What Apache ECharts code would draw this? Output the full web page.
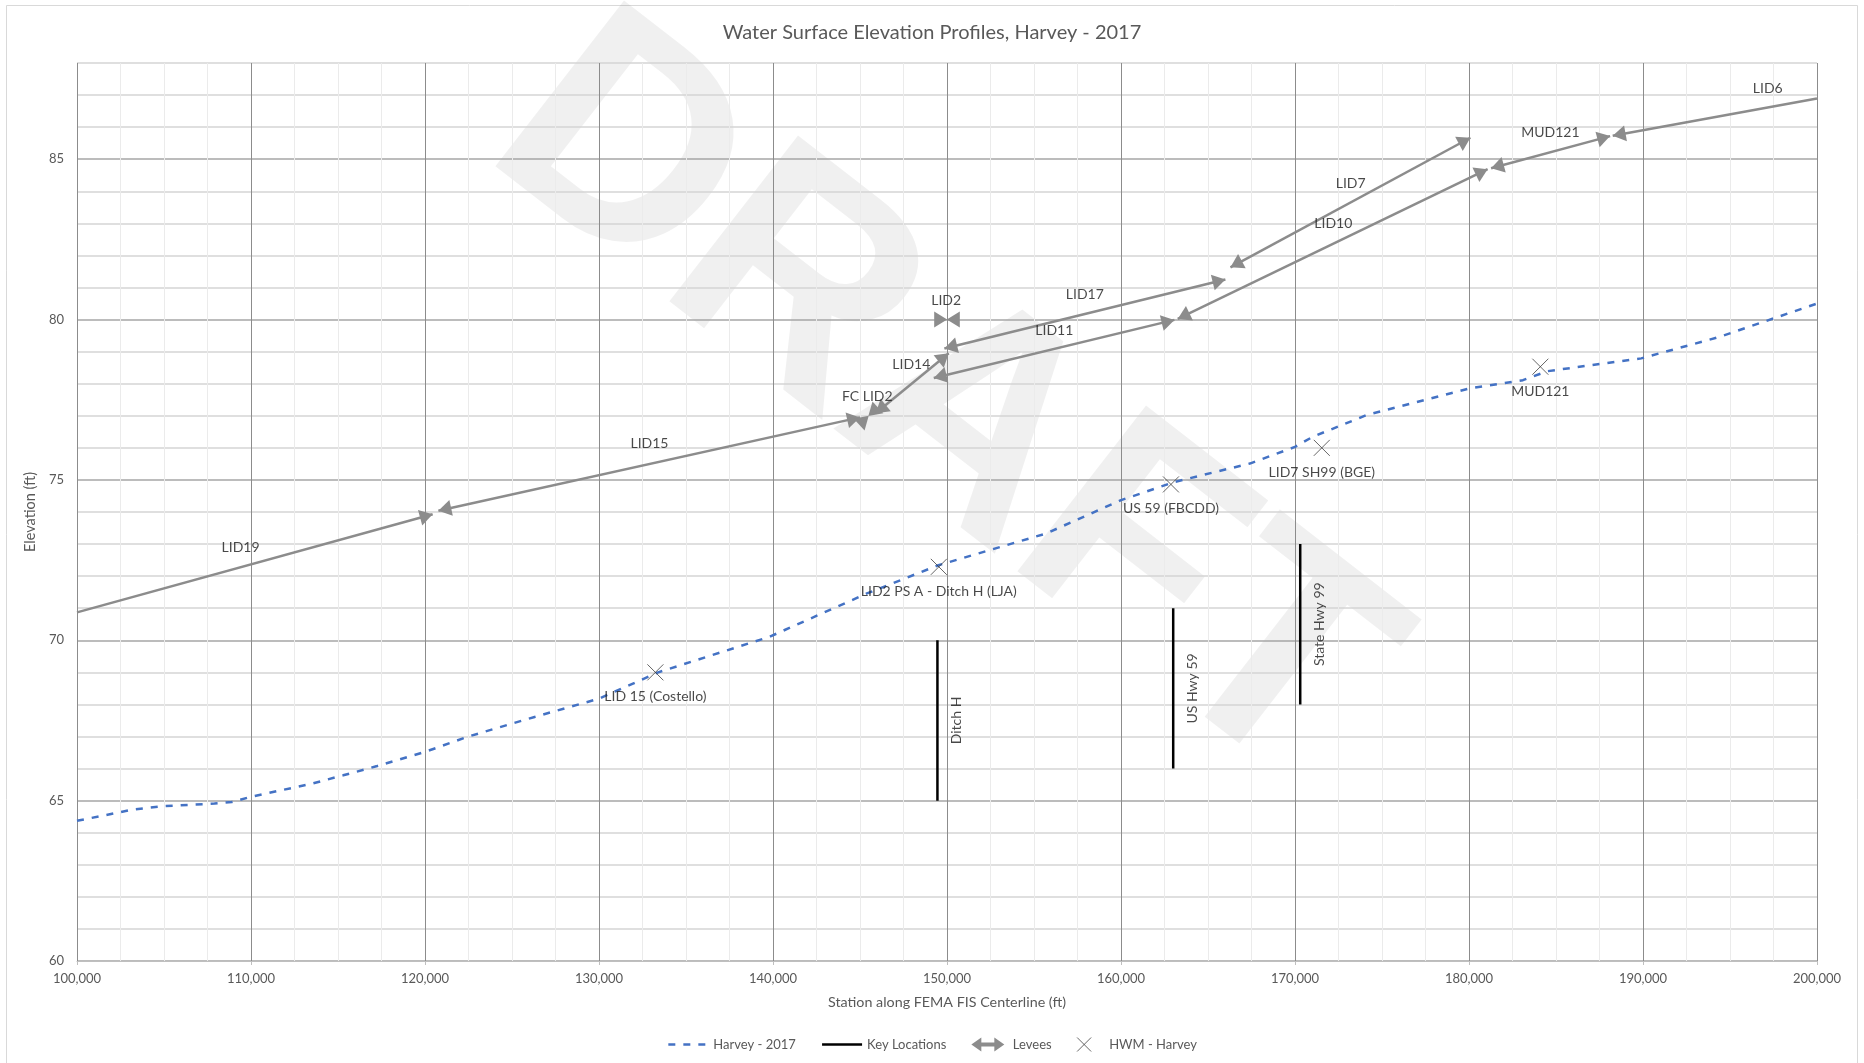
<!DOCTYPE html>
<html>
<head>
<meta charset="utf-8">
<script src="https://cdn.jsdelivr.net/npm/echarts@6/dist/echarts.min.js"></script>
<style>
html,body{margin:0;padding:0;background:#ffffff;}
#chart{width:1864px;height:1063px;}
</style>
</head>
<body>
<div id="chart"></div>
<script>
// ---------------- DATA ----------------
// Axis extents / tick steps
const xMin = 100000, xMax = 200000, xMajorStep = 10000, xMinorSplits = 4;
const yMin = 60, yMax = 88, yStep = 1, yLabelStep = 5;

// Harvey - 2017 water surface profile (station ft, elevation ft)
const harveyStation = [100000, 103200, 105000, 107900, 108900, 110000, 113500, 115300, 117200, 120000,
                       122500, 126300, 130000, 133400, 139800, 145400, 149500, 155700, 160000, 163100,
                       167400, 170000, 171000, 174100, 180000, 183100, 184500, 189900, 194400, 200000];
const harveyElev    = [64.37, 64.72, 64.83, 64.91, 64.96, 65.12, 65.53, 65.79, 66.07, 66.52,
                       67.00, 67.61, 68.18, 69.00, 70.11, 71.46, 72.34, 73.33, 74.37, 74.94,
                       75.51, 76.03, 76.34, 77.02, 77.85, 78.11, 78.39, 78.79, 79.46, 80.50];

// High water marks - Harvey
const hwmNames   = ['LID 15 (Costello)', 'LID2 PS A - Ditch H (LJA)', 'US 59 (FBCDD)', 'LID7 SH99 (BGE)', 'MUD121'];
const hwmStation = [133240, 149530, 162870, 171540, 184100];
const hwmElev    = [69.00, 72.29, 74.86, 76.00, 78.53];

// Key locations (vertical markers)
const keyNames   = ['Ditch H', 'US Hwy 59', 'State Hwy 99'];
const keyStation = [149450, 163000, 170300];
const keyBottom  = [65, 66, 68];
const keyTop     = [70, 71, 73];

// Levees (segments from -> to)
const leveeNames       = ['LID19', 'LID15', 'FC LID2', 'LID14', 'LID2', 'LID17', 'LID11', 'LID10', 'LID7', 'MUD121', 'LID6'];
const leveeFromStation = [100000, 120770, 145480, 145900, 149990, 149850, 149240, 163260, 166290, 181270, 188260];
const leveeFromElev    = [70.87, 74.04, 76.99, 77.08, 80.00, 79.10, 78.18, 80.02, 81.63, 84.72, 85.73];
const leveeToStation   = [120440, 145000, 145500, 150100, 150010, 166000, 163070, 181070, 180080, 188110, 200000];
const leveeToElev      = [73.93, 76.95, 77.00, 78.95, 80.00, 81.25, 79.99, 84.69, 85.67, 85.72, 86.89];
// Levee name label anchors
const leveeLabelStation = [109400, 132900, 145420, 147950, 149950, 157920, 156170, 172200, 173200, 184680, 197170];
const leveeLabelElev    = [72.90, 76.14, 77.60, 78.61, 80.61, 80.77, 79.66, 83.00, 84.25, 85.83, 87.21];

// ---------------- STYLE ----------------
const FONT = 'Lato';
const GRAY_TEXT = '#595959';
const LABEL_TEXT = '#1a1a1a';
const HARVEY_COLOR = '#4472c4';
const LEVEE_COLOR = '#8c8c8c';
const X_SYMBOL = 'path://M0,0L10,10M10,0L0,10';
const LEVEE_ICON = 'path://M0,7L10,0L10,5L23,5L23,0L33,7L23,14L23,9L10,9L10,14Z';
const ARROW_SIZE = [16, 13];
const ARROW_OFFSET = [0, '50%'];

const atAxisEdge = s => s <= xMin || s >= xMax;
const leveeEnd = (s, e) => atAxisEdge(s)
  ? { coord: [s, e], symbol: 'none' }
  : { coord: [s, e], symbol: 'triangle', symbolSize: ARROW_SIZE, symbolOffset: ARROW_OFFSET };

const series = [];

series.push({
  name: 'Harvey - 2017',
  type: 'line',
  data: harveyStation.map((s, i) => [s, harveyElev[i]]),
  symbol: 'none',
  showSymbol: false,
  itemStyle: { color: HARVEY_COLOR },
  lineStyle: { color: HARVEY_COLOR, width: 2.5, type: [7, 8], cap: 'butt' },
  silent: true,
  z: 3
});

keyStation.forEach((s, i) => {
  series.push({
    name: 'Key Locations',
    type: 'line',
    data: [[s, keyBottom[i]], [s, keyTop[i]]],
    symbol: 'none',
    showSymbol: false,
    itemStyle: { color: '#000000' },
    lineStyle: { color: '#000000', width: 2.5 },
    silent: true,
    z: 4
  });
});

series.push({
  name: 'Levees',
  type: 'line',
  data: [],
  itemStyle: { color: LEVEE_COLOR },
  lineStyle: { color: LEVEE_COLOR },
  silent: true,
  z: 4,
  markLine: {
    silent: true,
    animation: false,
    symbol: 'triangle',
    symbolSize: 12,
    lineStyle: { color: LEVEE_COLOR, width: 2.5, type: 'solid' },
    label: { show: false },
    emphasis: { disabled: true },
    data: leveeNames.map((n, i) => [
      Object.assign({ name: n }, leveeEnd(leveeFromStation[i], leveeFromElev[i])),
      leveeEnd(leveeToStation[i], leveeToElev[i])
    ])
  }
});

series.push({
  name: 'HWM - Harvey',
  type: 'scatter',
  data: hwmStation.map((s, i) => ({ value: [s, hwmElev[i]], name: hwmNames[i] })),
  symbol: X_SYMBOL,
  symbolSize: 16,
  itemStyle: { color: 'transparent', borderColor: '#404040', borderWidth: 1 },
  label: { show: true, position: 'bottom', distance: 9, formatter: '{b}', color: LABEL_TEXT, fontSize: 14, fontFamily: FONT },
  silent: true,
  z: 5
});

series.push({
  name: 'keyLabels',
  type: 'scatter',
  data: keyNames.map((n, i) => ({ value: [keyStation[i], (keyBottom[i] + keyTop[i]) / 2], name: n })),
  symbolSize: 0,
  itemStyle: { color: 'transparent' },
  label: { show: true, formatter: '{b}', position: [12, 0], rotate: 90, align: 'center', verticalAlign: 'top',
           color: LABEL_TEXT, fontSize: 14, fontFamily: FONT },
  silent: true,
  z: 6
});

series.push({
  name: 'leveeLabels',
  type: 'scatter',
  data: leveeNames.map((n, i) => ({ value: [leveeLabelStation[i], leveeLabelElev[i]], name: n })),
  symbolSize: 0,
  itemStyle: { color: 'transparent' },
  label: { show: true, formatter: '{b}', position: 'inside', align: 'center', verticalAlign: 'middle',
           color: LABEL_TEXT, fontSize: 14, fontFamily: FONT },
  silent: true,
  z: 6
});

const option = {
  backgroundColor: '#ffffff',
  animation: false,
  title: {
    text: 'Water Surface Elevation Profiles, Harvey - 2017',
    left: 'center',
    top: 18,
    textStyle: { color: GRAY_TEXT, fontSize: 20, fontWeight: 'normal', fontFamily: FONT }
  },
  grid: { left: 77, top: 63, width: 1740, height: 898, outerBoundsMode: 'none' },
  legend: {
    top: 1032,
    left: 'center',
    itemWidth: 40,
    itemHeight: 14,
    itemGap: 25,
    selectedMode: false,
    textStyle: { color: GRAY_TEXT, fontSize: 13, fontFamily: FONT },
    data: [
      { name: 'Harvey - 2017', itemStyle: { opacity: 0 }, lineStyle: { color: HARVEY_COLOR, width: 2.5, type: [7, 8] } },
      { name: 'Key Locations', itemStyle: { opacity: 0 }, lineStyle: { color: '#000000', width: 2.5, type: 'solid' } },
      { name: 'Levees', icon: LEVEE_ICON, itemStyle: { color: LEVEE_COLOR, borderWidth: 0 } },
      { name: 'HWM - Harvey', icon: X_SYMBOL, itemStyle: { color: 'transparent', borderColor: '#404040', borderWidth: 1 } }
    ]
  },
  xAxis: {
    type: 'value',
    min: xMin, max: xMax, interval: xMajorStep,
    name: 'Station along FEMA FIS Centerline (ft)',
    nameLocation: 'middle', nameGap: 34,
    nameTextStyle: { color: GRAY_TEXT, fontSize: 14.3, fontFamily: FONT },
    axisLine: { show: true, onZero: false, lineStyle: { color: '#bfbfbf', width: 1 } },
    axisTick: { show: true, length: 4, lineStyle: { color: '#bfbfbf' } },
    axisLabel: { color: GRAY_TEXT, fontSize: 13, fontFamily: FONT, margin: 11,
                 formatter: v => Number(v).toLocaleString('en-US') },
    splitLine: { show: true, lineStyle: { color: '#8c8c8c', width: 1 } },
    minorTick: { show: false, splitNumber: xMinorSplits },
    minorSplitLine: { show: true, lineStyle: { color: '#ebebeb', width: 1 } }
  },
  yAxis: {
    type: 'value',
    min: yMin, max: yMax, interval: yStep,
    name: 'Elevation (ft)',
    nameLocation: 'middle', nameGap: 35,
    nameTextStyle: { color: GRAY_TEXT, fontSize: 14.5, fontFamily: FONT },
    axisLine: { show: false },
    axisTick: { show: false },
    axisLabel: { color: GRAY_TEXT, fontSize: 13, fontFamily: FONT, margin: 13,
                 formatter: v => (v % yLabelStep === 0 ? String(v) : '') },
    splitLine: { show: true, lineStyle: { color: ['#a6a6a6', '#d4d4d4', '#d4d4d4', '#d4d4d4', '#d4d4d4'], width: 1.5 } }
  },
  graphic: [
    { type: 'rect', silent: true, z: -2,
      shape: { x: 6.5, y: 5.5, width: 1851, height: 1080 },
      style: { fill: 'none', stroke: '#d9d9d9', lineWidth: 1 } },
    { type: 'text', silent: true, z: -1,
      x: 939, y: 404, rotation: -0.66,
      style: { text: 'DRAFT', font: 'bold 305px "Liberation Sans"', fill: 'rgba(0,0,0,0.06)', align: 'center', verticalAlign: 'middle' } }
  ],
  series: series
};

const chart = echarts.init(document.getElementById('chart'), null, { renderer: 'canvas' });
chart.setOption(option);
</script>
</body>
</html>
